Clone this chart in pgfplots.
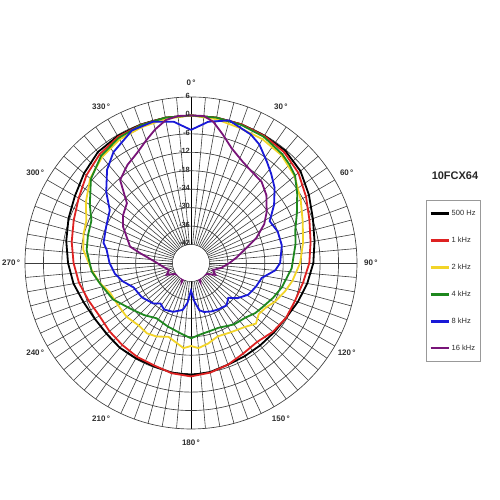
\documentclass[border=0pt]{standalone}
\usepackage{fontspec}
\setmainfont{Liberation Sans}
\usepackage{pgfplots}
\usepackage{pgfplotstable}
\pgfplotsset{compat=1.18}
\definecolor{cRed}{RGB}{222,34,34}
\definecolor{cYel}{RGB}{242,212,40}
\definecolor{cGrn}{RGB}{30,135,30}
\definecolor{cBlu}{RGB}{25,25,215}
\definecolor{cPur}{RGB}{120,20,120}
\definecolor{gridc}{RGB}{60,60,60}
\definecolor{txtc}{RGB}{45,45,45}

\pgfplotstableread{
a d
0 0
10 0
20 0
30 -0.2
40 -0.3
50 -1.5
60 -3.7
70 -5.8
80 -7.2
90 -8.2
100 -9.6
110 -11
120 -12.3
130 -12.8
140 -13
150 -13
160 -12.8
170 -12
180 -11.5
190 -11.8
200 -12.3
210 -12.2
220 -12
230 -12.2
240 -11.8
250 -10.8
260 -9.2
270 -8
280 -6.8
290 -5.6
300 -4.4
310 -2.6
320 -0.9
330 -0.3
340 -0.1
350 0
360 0
}\tblA

\pgfplotstableread{
a d
0 0
10 0
20 0
30 -0.3
40 -0.9
50 -2.4
60 -4.8
70 -7
80 -8.5
90 -9.5
100 -11
110 -12
120 -12.3
130 -13.2
140 -14.5
150 -14
160 -12.8
170 -11.8
180 -11.1
190 -11.6
200 -12.6
210 -12.8
220 -13.2
230 -13.4
240 -13.6
250 -12.5
260 -11
270 -9.8
280 -8.6
290 -7.4
300 -5.8
310 -3.6
320 -1.8
330 -0.6
340 -0.2
350 0
360 0
}\tblB

\pgfplotstableread{
a d
0 0
10 -0.5
20 -1.3
30 -1.5
40 -2.2
50 -4
60 -6.8
70 -9.3
80 -11
90 -12.5
100 -14.5
107 -16.1
115 -18
120 -19.5
127 -20.4
133 -19.1
140 -20.8
150 -22
160 -22.6
168 -21.2
175 -20.2
180 -21
185 -20.2
197 -22.9
205 -21.6
212 -21
220 -21.5
230 -20.7
240 -20.6
250 -19.9
258 -17.5
266 -15.6
277 -12.7
285 -11.8
292 -11.3
300 -8.5
310 -5.2
320 -3
330 -1.6
340 -1
350 -0.4
360 0
}\tblC

\pgfplotstableread{
a d
0 0
10 0
20 -0.2
30 -0.6
40 -1.8
45 -2.7
50 -3.8
57 -6.8
65 -10
72 -12.3
80 -13.5
93 -15.2
105 -17.4
113 -19
122 -20.7
128 -21.5
135 -22.9
145 -23.6
157 -25.1
165 -25
172 -24.6
180 -23.5
188 -24.8
200 -26
212 -26.8
222 -25.2
233 -23.3
245 -20
257 -17.7
265 -15.6
277 -13.8
285 -13.3
293 -12.8
300 -10
310 -5.5
320 -2.5
330 -1
340 -0.3
350 0
360 0
}\tblD

\pgfplotstableread{
a d
0 -4.7
7 -1.7
15 0
25 -1.9
30 -3.5
37 -6.9
42 -9
48 -11.4
55 -15
62 -19
70 -18
79 -17.9
90 -19
95 -20.5
102 -24.5
110 -25.5
119 -26.7
127 -29
133 -31.4
140 -30
150 -30.5
157 -30.9
165 -31.5
170 -32.4
175 -35.5
180 -39
185 -35
190 -32.5
200 -31.1
210 -30.5
217 -31.5
223 -30
235 -28.5
247 -27.7
255 -25
262 -23
270 -21.5
279 -20.2
283 -18.8
293 -18
303 -16.5
310 -12
318 -7.2
325 -4
336 -0.8
345 -0.4
353 -1.7
360 -4.7
}\tblE

\pgfplotstableread{
a d
0 0
5 0
9 -1.5
14 -5
19.5 -8.4
27 -11
33.6 -12.3
41 -13
48 -15
56 -18.3
62 -21
69 -25.2
76 -30
83 -33
90 -35.5
99 -38
108 -40.5
116 -39.2
125 -41.8
140 -42.5
150 -42
154 -41
158 -44
170 -46
180 -46
190 -46
202 -44
206 -41
210 -42
220 -42.5
235 -41.8
244 -39.2
252 -40.5
262 -38.9
272 -36.3
281 -31.1
285 -27.5
298 -23
305 -21
313 -19.5
319.5 -12.5
327 -10
333.7 -8.2
340 -5.5
345 -3
350 -0.8
355 0
360 0
}\tblF

\begin{document}
\begin{tikzpicture}
\useasboundingbox (0,0) rectangle (500pt,500pt);
\begin{axis}[
  at={(0,0)}, anchor=south west,
  x=3.074pt, y=3.074pt,
  xmin=-62.13, xmax=100.52, ymin=-77.10, ymax=85.56,
  hide axis, clip=false,
  legend cell align=left,
  legend style={at={(0.852,0.6)}, anchor=north west,
    draw=gray!80, line width=0.7pt, fill=white,
    font=\fontsize{7.5}{8.5}\selectfont, text=txtc,
    row sep=16pt, inner xsep=3pt, inner ysep=8pt},
  legend image code/.code={\draw[#1, line width=2.4pt] (0pt,0pt) -- (18pt,0pt);},
]
% grid
\pgfplotsinvokeforeach{0,5,...,355}{
  \draw[gridc, line width=0.6pt] (axis cs:{6*sin(#1)},{6*cos(#1)}) -- (axis cs:{54*sin(#1)},{54*cos(#1)});
}
\draw[black, line width=0.8pt] (axis cs:0,6) -- (axis cs:0,54);
\draw[black, line width=0.8pt] (axis cs:0,-6) -- (axis cs:0,-54);
\pgfplotsinvokeforeach{6,12,...,54}{
  \draw[gridc, line width=0.65pt] (axis cs:0,0) circle[radius=#1*3.074pt];
}
% data
\addplot[black, line width=1.8pt] table[x expr={(\thisrow{d}+48)*sin(\thisrow{a})}, y expr={(\thisrow{d}+48)*cos(\thisrow{a})}] {\tblA};
\addlegendentry{500 Hz}
\addplot[cRed, line width=1.8pt] table[x expr={(\thisrow{d}+48)*sin(\thisrow{a})}, y expr={(\thisrow{d}+48)*cos(\thisrow{a})}] {\tblB};
\addlegendentry{1 kHz}
\addplot[cYel, line width=1.8pt] table[x expr={(\thisrow{d}+48)*sin(\thisrow{a})}, y expr={(\thisrow{d}+48)*cos(\thisrow{a})}] {\tblC};
\addlegendentry{2 kHz}
\addplot[cGrn, line width=1.8pt] table[x expr={(\thisrow{d}+48)*sin(\thisrow{a})}, y expr={(\thisrow{d}+48)*cos(\thisrow{a})}] {\tblD};
\addlegendentry{4 kHz}
\addplot[cBlu, line width=1.8pt] table[x expr={(\thisrow{d}+48)*sin(\thisrow{a})}, y expr={(\thisrow{d}+48)*cos(\thisrow{a})}] {\tblE};
\addlegendentry{8 kHz}
\addplot[cPur, line width=1.8pt] table[x expr={(\thisrow{d}+48)*sin(\thisrow{a})}, y expr={(\thisrow{d}+48)*cos(\thisrow{a})}] {\tblF};
\addlegendentry{16 kHz}
% inner hole
\fill[white] (axis cs:0,0) circle[radius=18.0pt];
% radial labels
\pgfplotsinvokeforeach{6,12,...,54}{
  \node[anchor=east, inner sep=0pt, text=txtc, font=\bfseries\fontsize{7.5}{8}\selectfont] at (axis cs:-0.3,#1+0.4) {\pgfmathparse{int(#1-48)}\pgfmathresult};
}
% angle labels
\pgfplotsinvokeforeach{0,30,...,330}{
  \node[text=txtc, font=\bfseries\fontsize{8}{9}\selectfont] at (axis cs:{58.5*sin(#1)},{58.5*cos(#1)}) {#1\,°};
}
\node[text=black!85, font=\bfseries\fontsize{11}{13}\selectfont] at (axis description cs:0.91,0.648) {10FCX64};
\end{axis}
\end{tikzpicture}
\end{document}
